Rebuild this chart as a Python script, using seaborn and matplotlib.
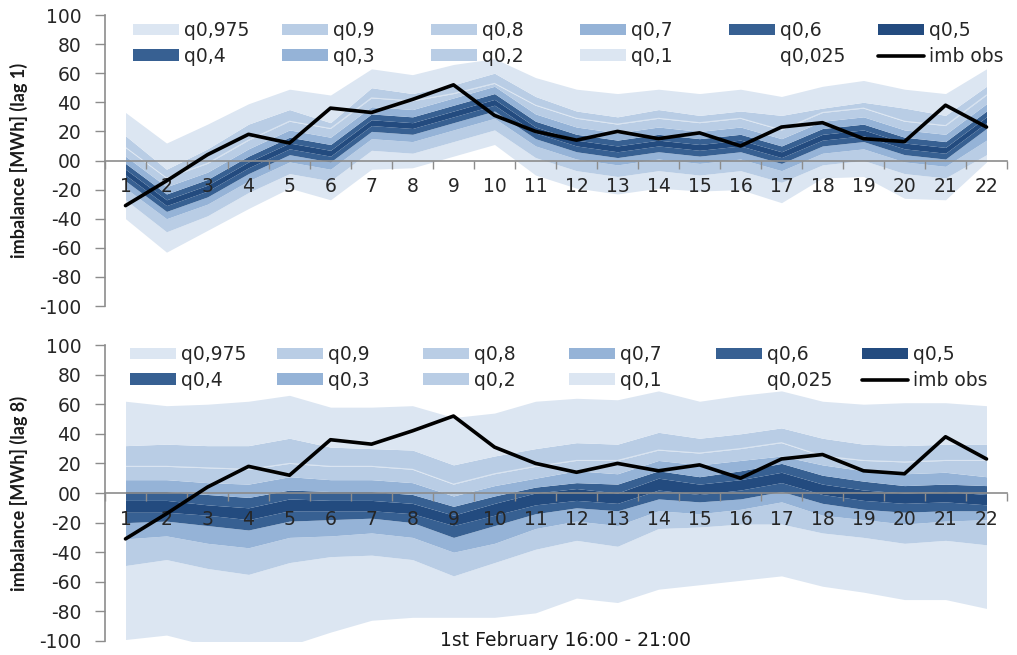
import numpy as np
import pandas as pd
import matplotlib
matplotlib.use("Agg")
import matplotlib.pyplot as plt
from matplotlib.patches import Patch
from matplotlib.lines import Line2D
import seaborn as sns

# ---------------------------------------------------------------- data
steps = list(range(1, 23))
imb_obs = [-31, -14, 4, 18, 12, 36, 33, 42, 52, 31, 20, 14, 20, 15, 19, 10, 23, 26, 15, 13, 38, 23]

quantile_labels = ["q0,025", "q0,1", "q0,2", "q0,3", "q0,4", "q0,5",
                   "q0,6", "q0,7", "q0,8", "q0,9", "q0,975"]

# lag 1 quantile forecasts [MWh]
lag1_q025 = [-40, -63, -48, -33, -19, -27, -6, -5, 3, 11, -10, -19, -23, -19, -21, -20, -29, -12, -11, -26, -27, -1]
lag1_q10 = [-27, -49, -38, -22, -9, -14, 7, 5, 13, 21, 2, -7, -11, -7, -10, -7, -15, -3, 0, -9, -12, 4]
lag1_q20 = [-19, -40, -30, -14, -1, -6, 15, 13, 21, 29, 10, 1, -3, 1, -2, 1, -7, 5, 8, -1, -4, 14]
lag1_q30 = [-14, -35, -25, -9, 4, -1, 20, 18, 26, 34, 15, 6, 2, 6, 3, 6, -2, 10, 13, 4, 1, 22]
lag1_q40 = [-10, -31, -21, -5, 8, 3, 24, 22, 30, 38, 19, 10, 6, 10, 7, 10, 2, 14, 17, 8, 5, 26]
lag1_q50 = [-6, -27, -17, -1, 12, 7, 28, 26, 34, 42, 23, 14, 10, 14, 11, 14, 6, 18, 21, 12, 9, 30]
lag1_q60 = [-2, -23, -13, 3, 16, 11, 32, 30, 38, 46, 27, 18, 14, 18, 15, 18, 10, 22, 25, 16, 13, 34]
lag1_q70 = [3, -18, -8, 8, 21, 16, 37, 35, 43, 51, 32, 23, 19, 23, 20, 23, 15, 27, 30, 21, 18, 39]
lag1_q80 = [9, -12, -2, 14, 27, 22, 43, 41, 46, 53, 38, 29, 25, 29, 26, 29, 21, 33, 36, 27, 24, 45]
lag1_q90 = [17, -6, 8, 25, 35, 26, 50, 46, 52, 60, 44, 34, 30, 35, 31, 34, 31, 36, 40, 36, 31, 51]
lag1_q975 = [33, 12, 25, 39, 49, 45, 63, 59, 66, 70, 57, 49, 46, 49, 46, 49, 44, 51, 55, 49, 46, 63]

# lag 8 quantile forecasts [MWh]
lag8_q025 = [-99, -96, -103, -103, -103, -94, -86, -84, -84, -84, -81, -71, -74, -65, -62, -59, -56, -63, -67, -72, -72, -78]
lag8_q10 = [-49, -45, -51, -55, -47, -43, -42, -45, -56, -47, -38, -32, -36, -24, -23, -21, -21, -27, -30, -34, -32, -35]
lag8_q20 = [-31, -29, -34, -37, -30, -29, -27, -30, -40, -34, -24, -19, -22, -12, -14, -11, -6, -15, -18, -21, -19, -18]
lag8_q30 = [-20, -19, -22, -25, -19, -18, -17, -20, -30, -22, -14, -10, -12, -4, -6, -4, 1, -7, -11, -13, -12, -12]
lag8_q40 = [-13, -13, -15, -18, -12, -12, -12, -14, -22, -15, -8, -5, -7, 2, -1, 2, 7, -1, -5, -7, -6, -8]
lag8_q50 = [-5, -5, -8, -10, -4, -5, -5, -7, -15, -7, 0, 3, 0, 10, 6, 9, 14, 6, 2, 0, 1, -1]
lag8_q60 = [1, 1, -1, -3, 2, 1, 1, -1, -9, -2, 4, 7, 6, 15, 11, 15, 20, 12, 8, 5, 6, 5]
lag8_q70 = [9, 9, 7, 6, 11, 9, 9, 7, -2, 5, 10, 15, 13, 22, 19, 22, 25, 19, 15, 13, 14, 11]
lag8_q80 = [18, 18, 17, 16, 20, 18, 18, 16, 6, 13, 18, 22, 22, 29, 27, 30, 34, 25, 22, 21, 22, 22]
lag8_q90 = [32, 33, 32, 32, 37, 31, 30, 29, 19, 25, 30, 34, 33, 41, 37, 40, 44, 37, 33, 32, 33, 33]
lag8_q975 = [62, 59, 60, 62, 66, 58, 58, 59, 51, 54, 62, 64, 63, 69, 62, 66, 69, 62, 60, 61, 61, 59]

lag1 = pd.DataFrame(dict(zip(quantile_labels, [
    lag1_q025, lag1_q10, lag1_q20, lag1_q30, lag1_q40, lag1_q50,
    lag1_q60, lag1_q70, lag1_q80, lag1_q90, lag1_q975])), index=steps)
lag8 = pd.DataFrame(dict(zip(quantile_labels, [
    lag8_q025, lag8_q10, lag8_q20, lag8_q30, lag8_q40, lag8_q50,
    lag8_q60, lag8_q70, lag8_q80, lag8_q90, lag8_q975])), index=steps)

# ---------------------------------------------------------------- style
LIGHT, PALE, MID, DARK, DARKEST = "#dce6f2", "#b9cde5", "#95b3d7", "#376092", "#234b7f"
band_colors = {
    "q0,1": LIGHT, "q0,2": PALE, "q0,3": MID, "q0,4": DARK, "q0,5": DARKEST,
    "q0,6": DARK, "q0,7": MID, "q0,8": PALE, "q0,9": PALE, "q0,975": LIGHT,
}
AXIS_GREY = "#8c8c8c"
TEXT = "#262626"
FONT = 13.5          # horizontal text (ticks, legend, caption)
WIDE = ["DejaVu Sans"]
NARROW = ["Lato", "DejaVu Sans"]

sns.set_theme(style="white")
plt.rcParams["font.family"] = WIDE

W, H = 1017, 655
fig = plt.figure(figsize=(W / 100, H / 100), dpi=100)


def fig_box(left, top, right, bottom):
    return [left / W, 1 - bottom / H, (right - left) / W, (bottom - top) / H]


def draw_panel(ax, data, ylabel):
    # stacked quantile bands: each band spans from the previous quantile to this one
    for lo, hi in zip(quantile_labels[:-1], quantile_labels[1:]):
        ax.fill_between(data.index, data[lo], data[hi], color=band_colors[hi],
                        lw=0, zorder=1)
    ax.plot(data.index, data["q0,8"], color="white", lw=0.8, alpha=0.45, zorder=1.5)

    obs = pd.DataFrame({"step": steps, "imb": imb_obs})
    sns.lineplot(data=obs, x="step", y="imb", ax=ax, color="black", lw=2.6,
                 zorder=4)

    ax.set_xlim(0.5, 22.5)
    ax.set_ylim(-100, 100)
    yt = list(range(-100, 101, 20))
    ax.set_yticks(yt)
    ax.set_yticklabels(["00" if v == 0 else str(v) for v in yt])
    ax.set_xticks(steps)
    ax.set_xticklabels([str(s) for s in steps])
    ax.set_xticks(np.arange(0.5, 23, 1), minor=True)

    ax.tick_params(axis="x", which="major", length=0, pad=12,
                   labelsize=FONT, labelcolor=TEXT)
    ax.tick_params(axis="x", which="minor", length=6, width=1,
                   color=AXIS_GREY, direction="out", bottom=True)
    ax.tick_params(axis="y", which="major", length=7, width=1,
                   color=AXIS_GREY, direction="out", left=True, pad=10,
                   labelsize=FONT, labelcolor=TEXT)

    for side in ("top", "right"):
        ax.spines[side].set_visible(False)
    ax.spines["bottom"].set_position(("data", 0))
    for side in ("left", "bottom"):
        ax.spines[side].set_color(AXIS_GREY)
        ax.spines[side].set_linewidth(1.2)
        ax.spines[side].set_zorder(3)
    ax.set_axisbelow(False)
    ax.grid(False)

    ax.set_xlabel("")
    ax.set_ylabel(ylabel, fontsize=13, fontweight="bold", color="#1a1a1a",
                  family=NARROW)
    ax.yaxis.set_label_coords(-77 / 902, 0.5)


def draw_legend(ax, col_x, top_y):
    patch = {q: Patch(facecolor=band_colors[q], edgecolor="none")
             for q in band_colors}
    columns = [
        (("q0,975", patch["q0,975"]), ("q0,4", patch["q0,4"])),
        (("q0,9", patch["q0,9"]), ("q0,3", patch["q0,3"])),
        (("q0,8", patch["q0,8"]), ("q0,2", patch["q0,2"])),
        (("q0,7", patch["q0,7"]), ("q0,1", patch["q0,1"])),
        (("q0,6", patch["q0,6"]),
         ("q0,025", Patch(facecolor="none", edgecolor="none"))),
        (("q0,5", patch["q0,5"]),
         ("imb obs", Line2D([], [], color="black", lw=2.6))),
    ]
    legends = []
    for x, col in zip(col_x, columns):
        leg = ax.legend([h for _, h in col], [l for l, _ in col],
                        loc="upper left", bbox_to_anchor=(x / W, 1 - top_y / H),
                        bbox_transform=fig.transFigure, frameon=False,
                        fontsize=FONT, borderpad=0, borderaxespad=0,
                        handlelength=2.45, handleheight=0.58,
                        handletextpad=0.27, labelspacing=0.36)
        for t in leg.get_texts():
            t.set_color(TEXT)
        legends.append(leg)
    for leg in legends[:-1]:
        ax.add_artist(leg)


ax1 = fig.add_axes(fig_box(105, 15, 1007, 306))
ax2 = fig.add_axes(fig_box(105, 345, 1007, 641))

draw_panel(ax1, lag1, "imbalance [MWh] (lag 1)")
draw_panel(ax2, lag8, "imbalance [MWh] (lag 8)")

draw_legend(ax1, [133, 282, 431, 580, 729, 878], 21)
draw_legend(ax2, [130, 277, 423, 569, 716, 862], 345)

fig.text(565 / W, 1 - 641 / H, "1st February 16:00 - 21:00", ha="center",
         va="center", fontsize=FONT, color="#1a1a1a")

fig.savefig("out.png", dpi=100)
